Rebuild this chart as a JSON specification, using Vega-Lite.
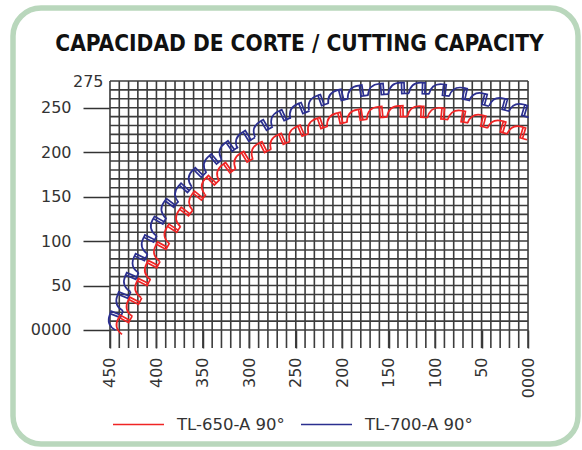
{
  "$schema": "https://vega.github.io/schema/vega-lite/v6.json",
  "width": 565,
  "height": 436,
  "autosize": {"type": "none"},
  "padding": {"left": 13, "top": 8, "right": 4, "bottom": 6},
  "background": "white",
  "config": {
    "view": {"stroke": "#b9d7bc", "strokeWidth": 5.5, "cornerRadius": 28, "fill": "white"},
    "font": "DejaVu Sans"
  },
  "title": {
    "text": "CAPACIDAD DE CORTE / CUTTING CAPACITY",
    "font": "DejaVu Sans Condensed, DejaVu Sans",
    "fontWeight": "bold",
    "fontSize": 22.5,
    "color": "#111111",
    "anchor": "middle",
    "baseline": "alphabetic",
    "offset": -44,
    "dx": 4,
    "dy": 21
  },
  "datasets": {
    "vgrid": [{"g":0},{"g":10},{"g":20},{"g":30},{"g":40},{"g":50},{"g":60},{"g":70},{"g":80},{"g":90},{"g":100},{"g":110},{"g":120},{"g":130},{"g":140},{"g":150},{"g":160},{"g":170},{"g":180},{"g":190},{"g":200},{"g":210},{"g":220},{"g":230},{"g":240},{"g":250},{"g":260},{"g":270},{"g":280},{"g":290},{"g":300},{"g":310},{"g":320},{"g":330},{"g":340},{"g":350},{"g":360},{"g":370},{"g":380},{"g":390},{"g":400},{"g":410},{"g":420},{"g":430},{"g":440},{"g":450}],
    "hgrid": [{"g":0},{"g":10},{"g":20},{"g":30},{"g":40},{"g":50},{"g":60},{"g":70},{"g":80},{"g":90},{"g":100},{"g":110},{"g":120},{"g":130},{"g":140},{"g":150},{"g":160},{"g":170},{"g":180},{"g":190},{"g":200},{"g":210},{"g":220},{"g":230},{"g":240},{"g":250},{"g":260},{"g":270},{"g":280}],
    "teeth": [
      {"series":"TL-700-A 90°","k":0,"x":445.5,"y":12.9},
      {"series":"TL-700-A 90°","k":1,"x":437.3,"y":34.6},
      {"series":"TL-700-A 90°","k":2,"x":429.0,"y":56.2},
      {"series":"TL-700-A 90°","k":3,"x":419.7,"y":77.4},
      {"series":"TL-700-A 90°","k":4,"x":409.8,"y":98.4},
      {"series":"TL-700-A 90°","k":5,"x":399.9,"y":119.2},
      {"series":"TL-700-A 90°","k":6,"x":388.1,"y":138.9},
      {"series":"TL-700-A 90°","k":7,"x":373.2,"y":156.2},
      {"series":"TL-700-A 90°","k":8,"x":358.3,"y":173.7},
      {"series":"TL-700-A 90°","k":9,"x":341.7,"y":189.0},
      {"series":"TL-700-A 90°","k":10,"x":324.5,"y":204.0},
      {"series":"TL-700-A 90°","k":11,"x":306.5,"y":215.7},
      {"series":"TL-700-A 90°","k":12,"x":287.3,"y":228.0},
      {"series":"TL-700-A 90°","k":13,"x":268.1,"y":239.4},
      {"series":"TL-700-A 90°","k":14,"x":247.7,"y":247.7},
      {"series":"TL-700-A 90°","k":15,"x":227.3,"y":256.9},
      {"series":"TL-700-A 90°","k":16,"x":205.7,"y":263.2},
      {"series":"TL-700-A 90°","k":17,"x":184.0,"y":268.4},
      {"series":"TL-700-A 90°","k":18,"x":161.7,"y":270.6},
      {"series":"TL-700-A 90°","k":19,"x":139.4,"y":271.9},
      {"series":"TL-700-A 90°","k":20,"x":117.0,"y":272.0},
      {"series":"TL-700-A 90°","k":21,"x":94.8,"y":270.5},
      {"series":"TL-700-A 90°","k":22,"x":72.7,"y":266.7},
      {"series":"TL-700-A 90°","k":23,"x":51.3,"y":260.5},
      {"series":"TL-700-A 90°","k":24,"x":29.6,"y":255.0},
      {"series":"TL-700-A 90°","k":25,"x":8.3,"y":248.3},
      {"series":"TL-650-A 90°","k":0,"x":436.8,"y":8.2},
      {"series":"TL-650-A 90°","k":1,"x":426.1,"y":28.4},
      {"series":"TL-650-A 90°","k":2,"x":416.8,"y":49.5},
      {"series":"TL-650-A 90°","k":3,"x":406.4,"y":69.7},
      {"series":"TL-650-A 90°","k":4,"x":396.5,"y":90.5},
      {"series":"TL-650-A 90°","k":5,"x":385.0,"y":110.3},
      {"series":"TL-650-A 90°","k":6,"x":372.3,"y":129.2},
      {"series":"TL-650-A 90°","k":7,"x":358.3,"y":147.3},
      {"series":"TL-650-A 90°","k":8,"x":344.2,"y":165.0},
      {"series":"TL-650-A 90°","k":9,"x":327.1,"y":179.6},
      {"series":"TL-650-A 90°","k":10,"x":308.3,"y":192.2},
      {"series":"TL-650-A 90°","k":11,"x":289.2,"y":203.5},
      {"series":"TL-650-A 90°","k":12,"x":268.9,"y":213.0},
      {"series":"TL-650-A 90°","k":13,"x":248.6,"y":222.2},
      {"series":"TL-650-A 90°","k":14,"x":228.0,"y":231.1},
      {"series":"TL-650-A 90°","k":15,"x":206.7,"y":237.3},
      {"series":"TL-650-A 90°","k":16,"x":184.8,"y":241.4},
      {"series":"TL-650-A 90°","k":17,"x":162.9,"y":244.7},
      {"series":"TL-650-A 90°","k":18,"x":140.7,"y":245.9},
      {"series":"TL-650-A 90°","k":19,"x":118.5,"y":245.6},
      {"series":"TL-650-A 90°","k":20,"x":96.5,"y":243.9},
      {"series":"TL-650-A 90°","k":21,"x":74.4,"y":240.9},
      {"series":"TL-650-A 90°","k":22,"x":52.8,"y":236.1},
      {"series":"TL-650-A 90°","k":23,"x":31.4,"y":229.7},
      {"series":"TL-650-A 90°","k":24,"x":10.1,"y":223.1}
    ]
  },
  "layer": [
    {
      "data": {"name": "vgrid"},
      "mark": {"type": "rule", "color": "#3c3c3c", "strokeWidth": 1.6},
      "encoding": {
        "x": {"field": "g", "type": "quantitative",
              "scale": {"domain": [554.4, -53.8], "nice": false, "zero": false},
              "axis": {"title": null, "values": [0,50,100,150,200,250,300,350,400,450],
                       "labelExpr": "datum.value == 0 ? '0000' : datum.label",
                       "labelAngle": -90, "labelPadding": 9, "labelFontSize": 16, "labelFont": "DejaVu Sans", "labelColor": "#333333",
                       "labelOverlap": false, "labelFlush": false, "labelBound": false,
                       "tickSize": 18, "tickWidth": 1.5, "tickColor": "#333333", "domain": false, "grid": false, "offset": -114}},
        "y": {"datum": -20.2, "type": "quantitative", "scale": {"domain": [-128.2, 362.1], "nice": false, "zero": false}},
        "y2": {"datum": 280}
      }
    },
    {
      "data": {"name": "hgrid"},
      "mark": {"type": "rule", "color": "#3c3c3c", "strokeWidth": 1.6},
      "encoding": {
        "y": {"field": "g", "type": "quantitative",
              "scale": {"domain": [-128.2, 362.1], "nice": false, "zero": false},
              "axis": {"title": null, "values": [0,50,100,150,200,250,280],
                       "labelExpr": "datum.value == 0 ? '0000' : (datum.value == 280 ? '275' : datum.label)",
                       "labelPadding": {"condition": {"test": "datum.value == 280", "value": -20}, "value": 12},
                       "tickOpacity": {"condition": {"test": "datum.value == 280", "value": 0}, "value": 1},
                       "labelFontSize": 16, "labelFont": "DejaVu Sans", "labelColor": "#333333", "labelOverlap": false, "labelFlush": false, "labelBound": false,
                       "tickSize": 27, "tickWidth": 1.5, "tickColor": "#333333", "domain": false, "grid": false, "offset": -97}},
        "x": {"datum": 450, "type": "quantitative", "scale": {"domain": [554.4, -53.8], "nice": false, "zero": false}},
        "x2": {"datum": 0}
      }
    },
    {
      "mark": {"type": "rule", "color": "#222222", "strokeWidth": 1.6},
      "encoding": {"x": {"datum": 450}, "x2": {"datum": -29}, "y": {"datum": 0}}
    },
    {
      "mark": {"type": "rule", "color": "#222222", "strokeWidth": 1.5},
      "encoding": {"x": {"datum": 0}, "x2": {"datum": -16}, "y": {"datum": 250}}
    },
    {
      "mark": {"type": "rule", "color": "#222222", "strokeWidth": 1.5},
      "encoding": {"x": {"datum": -16}, "y": {"datum": 250}, "y2": {"datum": -20.2}}
    },
    {
      "data": {"name": "teeth"},
      "transform": [
        {"window": [{"op": "lag", "field": "x", "as": "xp"}, {"op": "lead", "field": "x", "as": "xn"}, {"op": "lag", "field": "y", "as": "yp"}, {"op": "lead", "field": "y", "as": "yn"}],
         "groupby": ["series"], "sort": [{"field": "k"}]},
        {"calculate": "atan2(-((isValid(datum.yn) ? datum.yn : datum.y) - (isValid(datum.yp) ? datum.yp : datum.y)) * 0.8893, -((isValid(datum.xn) ? datum.xn : datum.x) - (isValid(datum.xp) ? datum.xp : datum.x)) * 0.9289) * 180 / PI", "as": "ang"}
      ],
      "mark": {"type": "point", "shape": "M -1 0.53 C -0.9 -0.2 -0.45 -0.53 0.2 -0.53 L 0.3 -0.53 L 0.3 0.53 L 0.55 0.53 L 0.55 -0.53 L 0.3 -0.53 M 0.55 0.53 L 1 0.53", "filled": false, "strokeWidth": 1.7, "size": 428, "opacity": 1},
      "encoding": {
        "x": {"field": "x", "type": "quantitative"},
        "y": {"field": "y", "type": "quantitative"},
        "angle": {"field": "ang", "type": "quantitative", "scale": null},
        "color": {"field": "series", "type": "nominal",
                  "scale": {"domain": ["TL-650-A 90°", "TL-700-A 90°"], "range": ["#f02424", "#2b2f8f"]},
                  "legend": {"title": null, "orient": "none", "legendX": 99, "legendY": 390, "direction": "horizontal",
                             "labelFont": "DejaVu Sans", "labelFontSize": 16.5, "labelColor": "#333333", "labelOffset": 12, "columnPadding": 13,
                             "symbolType": "stroke", "symbolSize": 2601, "symbolStrokeWidth": 1.5,
                             "encode": {"symbols": {"update": {"shape": {"value": "stroke"}, "size": {"value": 2601}, "strokeWidth": {"value": 1.5}}}}}}
      }
    }
  ]
}
